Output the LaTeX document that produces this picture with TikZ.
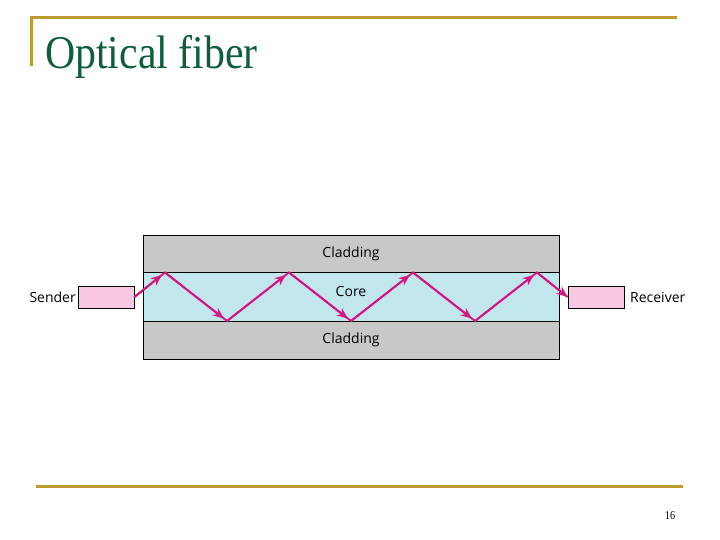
\documentclass[tikz,border=0pt]{standalone}
\usepackage{fontspec}
\setmainfont{Liberation Serif}
\newfontfamily\labelfont{Open Sans}
\usetikzlibrary{arrows.meta}
\definecolor{gold}{HTML}{BF9A30}
\definecolor{titlegreen}{HTML}{0E5E3B}
\definecolor{cladgray}{HTML}{C8C8C8}
\definecolor{corecol}{HTML}{C2E6EE}
\definecolor{pinkbox}{HTML}{F9C8E2}
\definecolor{raycol}{HTML}{D4197D}
\tikzset{
  rule/.style={draw=gold, line width=3pt},
  layer/.style={draw=black, line width=0.9pt, inner sep=0pt, outer sep=0pt},
  dev/.style={draw=black, fill=pinkbox, line width=0.9pt, minimum width=56pt, minimum height=22pt, inner sep=0pt},
  lab/.style={font=\labelfont\fontsize{14}{16}\selectfont, inner sep=0pt},
  ray/.style={draw=raycol, line width=1.9pt},
  rayarrow/.style={ray, -{Stealth[length=11pt,width=9pt]}, shorten >=4pt}
}
\begin{document}
\begin{tikzpicture}[x=1pt,y=-1pt]
\useasboundingbox (0,0) rectangle (720,540);
% slide frame
\draw[rule] (30,18) -- (677,18);
\draw[rule] (31,16.5) -- (31,66);
\draw[rule] (36,486) -- (683,486);
\node[anchor=base west, inner sep=0pt, text=titlegreen, xscale=0.89,
      font=\fontsize{47}{50}\selectfont] (title) at (45,69) {Optical fiber};
\node[inner sep=0pt, font=\fontsize{12}{14}\selectfont, xscale=0.85] (page) at (670,516) {16};
% fiber layers
\path[layer, fill=cladgray] (143,235) rectangle (559,272);
\path[layer, fill=corecol] (143,272) rectangle (559,321);
\path[layer, fill=cladgray] (143,321) rectangle (559,359);
\node[lab] (clad1) at (351,254) {Cladding};
\node[lab] (core) at (351,291) {Core};
\node[lab] (clad2) at (351,340) {Cladding};
% sender / receiver
\node[dev] (sender) at (106,297) {};
\node[dev] (receiver) at (596,297) {};
\node[lab, anchor=east] (sendlab) at (76,297) {Sender};
\node[lab, anchor=west] (reclab) at (630,297) {Receiver};
% ray path
\coordinate (p1) at (165,272.5);
\coordinate (p2) at (227,321);
\coordinate (p3) at (289,272.5);
\coordinate (p4) at (351,321);
\coordinate (p5) at (413,272.5);
\coordinate (p6) at (475,321);
\coordinate (p7) at (537,272.5);
\draw[ray, line join=miter] (sender.east) -- (p1) -- (p2) -- (p3) -- (p4) -- (p5) -- (p6) -- (p7) -- (receiver.west);
\draw[rayarrow] (sender.east) -- (p1);
\draw[rayarrow] (p1) -- (p2);
\draw[rayarrow] (p2) -- (p3);
\draw[rayarrow] (p3) -- (p4);
\draw[rayarrow] (p4) -- (p5);
\draw[rayarrow] (p5) -- (p6);
\draw[rayarrow] (p6) -- (p7);
\draw[ray, -{Stealth[length=11pt,width=9pt]}] (p7) -- (receiver.west);
\end{tikzpicture}
\end{document}
